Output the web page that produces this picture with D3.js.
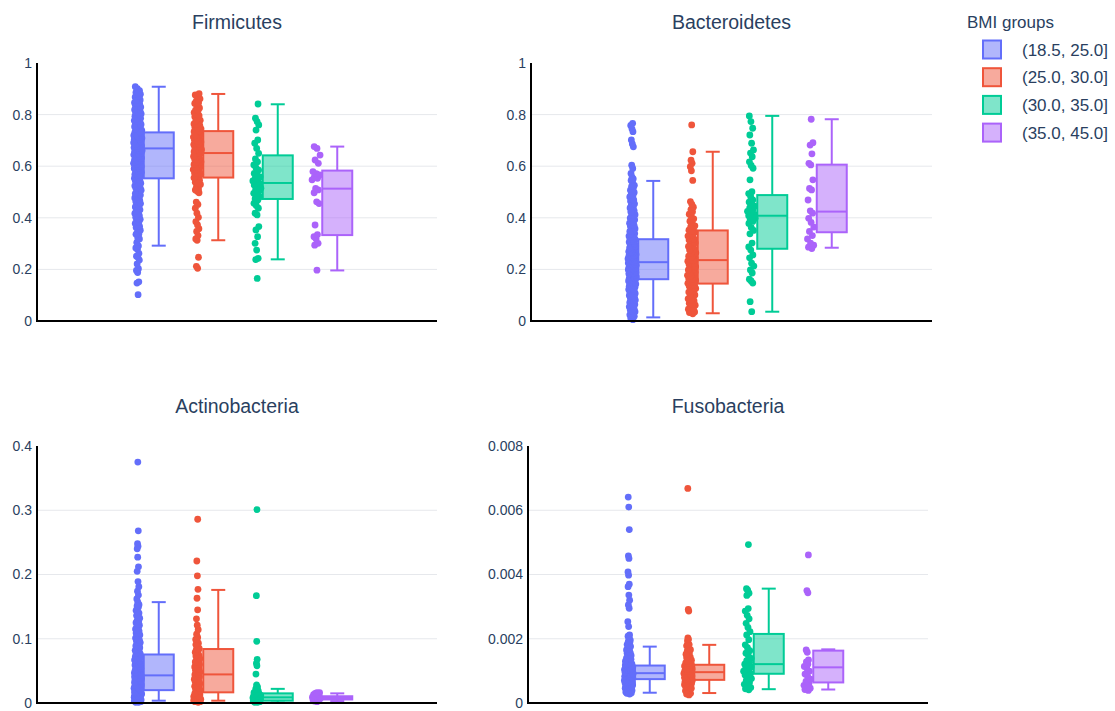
<!DOCTYPE html>
<html>
<head>
<meta charset="utf-8">
<script src="https://cdn.jsdelivr.net/npm/d3@7"></script>
<style>
  body { margin: 0; background: #fff; }
  svg { font-family: "Liberation Sans", Arial, sans-serif; background: #fff; }
  .tick text { fill: #2a3f5f; font-size: 14px; }
  .panel-title { fill: #2a3f5f; font-size: 19.5px; }
  .legend text { fill: #2a3f5f; font-size: 17px; }
</style>
</head>
<body>
<svg id="chart"></svg>
<script>
// ---- data ----
const bmiGroups = ['(18.5, 25.0]', '(25.0, 30.0]', '(30.0, 35.0]', '(35.0, 45.0]'];
const groupColors = ['#636efa', '#EF553B', '#00cc96', '#ab63fa'];
const phyla = ['Firmicutes', 'Bacteroidetes', 'Actinobacteria', 'Fusobacteria'];

const ticksUnit = [0, 0.2, 0.4, 0.6, 0.8, 1];
const ticksActino = [0, 0.1, 0.2, 0.3, 0.4];
const ticksFuso = [0, 0.002, 0.004, 0.006, 0.008];

// box stats per group: [lower fence, q1, median, q3, upper fence]
const firmBox = [[0.292, 0.553, 0.669, 0.731, 0.908], [0.313, 0.556, 0.651, 0.736, 0.880],
                 [0.239, 0.473, 0.535, 0.642, 0.840], [0.196, 0.333, 0.513, 0.583, 0.676]];
const bactBox = [[0.014, 0.162, 0.228, 0.317, 0.543], [0.030, 0.145, 0.236, 0.351, 0.656],
                 [0.036, 0.280, 0.408, 0.488, 0.795], [0.284, 0.344, 0.424, 0.606, 0.782]];
const actinoBox = [[0.0036, 0.020, 0.043, 0.0755, 0.157], [0.0036, 0.0166, 0.0445, 0.084, 0.176],
                   [0.0008, 0.0036, 0.0088, 0.015, 0.022], [0.003, 0.0055, 0.0078, 0.0105, 0.015]];
const fusoBox = [[0.00032, 0.000743, 0.000929, 0.001166, 0.001755], [0.00031, 0.00072, 0.00096, 0.00119, 0.00181],
                 [0.00043, 0.00091, 0.00121, 0.00215, 0.00356], [0.00042, 0.00064, 0.00111, 0.00163, 0.00167]];

// sample points
const firm1 = [0.102,0.147,0.152,0.188,0.196,0.203,0.221,0.236,0.247,0.251,0.262,0.278,0.283,0.291,0.304,0.318,0.322,0.337,0.341,0.356,0.362,0.371,0.378,0.389,0.394,0.402,0.408,0.417,0.423,0.431,0.436,0.442,0.451,0.458,0.463,0.472,0.477,0.484,0.491,0.497,0.503,0.512,0.518,0.524,0.531,0.537,0.542,0.548,0.553,0.559,0.562,0.568,0.574,0.577,0.583,0.588,0.591,0.597,0.602,0.606,0.611,0.614,0.619,0.623,0.627,0.632,0.636,0.641,0.644,0.648,0.652,0.655,0.659,0.663,0.666,0.669,0.672,0.675,0.679,0.682,0.686,0.689,0.693,0.696,0.699,0.703,0.706,0.709,0.712,0.716,0.719,0.722,0.725,0.728,0.731,0.735,0.739,0.742,0.747,0.751,0.756,0.759,0.764,0.768,0.772,0.777,0.781,0.786,0.791,0.794,0.799,0.803,0.808,0.813,0.817,0.822,0.826,0.831,0.836,0.841,0.846,0.852,0.857,0.863,0.868,0.874,0.879,0.886,0.893,0.901,0.908,
  0.336,0.352,0.367,0.383,0.396,0.412,0.427,0.446,0.455,0.468,0.481,0.488,0.494,0.507,0.515,0.521,0.528,0.534,0.545,0.556,0.565,0.571,0.579,0.586,0.594,0.599,0.604,0.608,0.616,0.621,0.629,0.634,0.638,0.646,0.651,0.657,0.661,0.671,0.677,0.684,0.691,0.698,0.705,0.711,0.718,0.727,0.733,0.744,0.753,0.762,0.774,0.783,0.797,0.806,0.819,0.829,0.844,0.855,0.871,0.884];
const firm2 = [0.204,0.212,0.247,0.313,0.318,0.331,0.347,0.358,0.372,0.385,0.402,0.418,0.437,0.452,0.461,0.497,0.503,0.512,0.521,0.529,0.538,0.546,0.552,0.557,0.563,0.569,0.574,0.581,0.587,0.592,0.598,0.604,0.611,0.617,0.622,0.628,0.634,0.641,0.646,0.651,0.656,0.661,0.667,0.672,0.678,0.684,0.689,0.694,0.701,0.707,0.713,0.718,0.724,0.729,0.734,0.739,0.745,0.751,0.758,0.764,0.771,0.778,0.784,0.792,0.801,0.808,0.817,0.826,0.834,0.843,0.852,0.861,0.869,0.876,0.881,
  0.508,0.534,0.555,0.572,0.586,0.596,0.607,0.615,0.626,0.638,0.649,0.659,0.664,0.675,0.687,0.698,0.710,0.721,0.737,0.748,0.762,0.775,0.796,0.815,0.846];
const firm3 = [0.165,0.238,0.243,0.275,0.301,0.327,0.353,0.366,0.411,0.418,0.437,0.448,0.456,0.469,0.474,0.481,0.488,0.495,0.502,0.508,0.515,0.521,0.527,0.532,0.538,0.543,0.549,0.553,0.559,0.566,0.572,0.585,0.593,0.605,0.617,0.628,0.650,0.669,0.689,0.702,0.740,0.760,0.773,0.786,0.841];
const firm4 = [0.197,0.294,0.301,0.318,0.327,0.335,0.372,0.455,0.462,0.497,0.508,0.514,0.547,0.553,0.557,0.566,0.571,0.579,0.611,0.624,0.643,0.669,0.676];

const bact1 = [0.005,0.012,0.018,0.024,0.031,0.036,0.043,0.049,0.055,0.061,0.067,0.072,0.078,0.083,0.089,0.094,0.099,0.104,0.109,0.113,0.118,0.122,0.127,0.131,0.135,0.139,0.143,0.147,0.151,0.155,0.158,0.162,0.165,0.169,0.172,0.176,0.179,0.183,0.186,0.189,0.193,0.196,0.199,0.203,0.206,0.209,0.212,0.216,0.219,0.222,0.225,0.228,0.231,0.234,0.238,0.241,0.244,0.248,0.251,0.255,0.258,0.262,0.266,0.269,0.273,0.277,0.281,0.285,0.289,0.293,0.297,0.302,0.306,0.311,0.315,0.319,0.324,0.329,0.334,0.339,0.344,0.349,0.355,0.361,0.367,0.373,0.379,0.386,0.392,0.399,0.405,0.412,0.419,0.427,0.434,0.442,0.449,0.457,0.465,0.472,0.481,0.489,0.498,0.507,0.516,0.526,0.537,0.545,0.558,0.572,0.591,0.604,0.675,0.686,0.702,0.734,0.745,0.758,0.766,
  0.021,0.028,0.039,0.047,0.058,0.064,0.075,0.081,0.092,0.101,0.107,0.116,0.124,0.133,0.137,0.145,0.149,0.156,0.161,0.167,0.171,0.178,0.184,0.188,0.195,0.201,0.205,0.211,0.217,0.221,0.227,0.233,0.237,0.243,0.249,0.254,0.261,0.267,0.275,0.283,0.291,0.299,0.308,0.317,0.326,0.337,0.347,0.358,0.371,0.383,0.396,0.409,0.423,0.438,0.454,0.469,0.486,0.503,0.522,0.551];
const bact2 = [0.028,0.033,0.038,0.046,0.052,0.061,0.069,0.078,0.086,0.094,0.101,0.109,0.116,0.122,0.129,0.135,0.141,0.146,0.152,0.158,0.164,0.171,0.177,0.183,0.189,0.195,0.201,0.207,0.213,0.219,0.226,0.232,0.238,0.244,0.251,0.258,0.264,0.271,0.278,0.285,0.292,0.299,0.306,0.314,0.321,0.329,0.336,0.344,0.352,0.361,0.369,0.378,0.387,0.396,0.405,0.414,0.423,0.432,0.441,0.452,0.463,0.545,0.582,0.598,0.611,0.623,0.656,0.760,
  0.035,0.049,0.064,0.082,0.097,0.112,0.126,0.138,0.149,0.161,0.174,0.186,0.198,0.210,0.222,0.235,0.248,0.261,0.275,0.289,0.303,0.318,0.333,0.348,0.366];
const bact3 = [0.036,0.075,0.147,0.155,0.162,0.186,0.198,0.213,0.224,0.245,0.256,0.275,0.287,0.302,0.338,0.351,0.362,0.378,0.386,0.392,0.398,0.403,0.408,0.413,0.419,0.425,0.431,0.438,0.445,0.452,0.461,0.469,0.482,0.494,0.501,0.547,0.592,0.603,0.617,0.637,0.651,0.663,0.689,0.721,0.747,0.773,0.795];
const bact4 = [0.281,0.286,0.294,0.302,0.318,0.331,0.347,0.364,0.382,0.398,0.418,0.427,0.469,0.508,0.514,0.547,0.605,0.611,0.648,0.682,0.691,0.782];

const actino1 = [0.001,0.002,0.003,0.004,0.005,0.006,0.008,0.009,0.010,0.011,0.012,0.013,0.014,0.015,0.016,0.017,0.018,0.019,0.020,0.021,0.022,0.023,0.024,0.025,0.026,0.027,0.028,0.029,0.031,0.032,0.033,0.034,0.035,0.036,0.037,0.038,0.039,0.040,0.041,0.042,0.043,0.044,0.045,0.046,0.047,0.048,0.049,0.050,0.052,0.053,0.055,0.056,0.058,0.059,0.061,0.063,0.064,0.066,0.068,0.069,0.071,0.073,0.075,0.077,0.079,0.081,0.083,0.085,0.088,0.090,0.092,0.095,0.097,0.100,0.103,0.106,0.109,0.112,0.115,0.118,0.121,0.125,0.128,0.132,0.136,0.140,0.144,0.149,0.153,0.157,0.162,0.168,0.174,0.181,0.189,0.205,0.212,0.227,0.240,0.244,0.248,0.268,0.375,
  0.001,0.002,0.004,0.005,0.007,0.009,0.011,0.013,0.015,0.017,0.019,0.021,0.023,0.025,0.027,0.030,0.032,0.034,0.036,0.038,0.041,0.043,0.046,0.048,0.051,0.054,0.057,0.060,0.062,0.065,0.067,0.070,0.072,0.076,0.078,0.082,0.086,0.089,0.094,0.098,0.101,0.105,0.108,0.113,0.117,0.122,0.127,0.134,0.142,0.151];
const actino2 = [0.001,0.002,0.003,0.004,0.005,0.006,0.007,0.009,0.010,0.012,0.013,0.014,0.016,0.018,0.020,0.022,0.024,0.026,0.028,0.031,0.033,0.035,0.038,0.040,0.042,0.044,0.046,0.049,0.051,0.054,0.057,0.059,0.062,0.065,0.068,0.071,0.074,0.078,0.081,0.085,0.089,0.093,0.097,0.102,0.107,0.114,0.121,0.131,0.145,0.163,0.177,0.198,0.221,0.286,
  0.002,0.004,0.006,0.008,0.011,0.015,0.019,0.023,0.027,0.030,0.034,0.037,0.041,0.045,0.048,0.053,0.056,0.060,0.064,0.069,0.073,0.079,0.084,0.091,0.099];
const actino3 = [0.001,0.001,0.002,0.002,0.003,0.004,0.004,0.005,0.006,0.006,0.007,0.008,0.008,0.009,0.009,0.010,0.010,0.011,0.011,0.012,0.012,0.013,0.014,0.014,0.015,0.016,0.017,0.018,0.019,0.021,0.022,0.025,0.028,0.045,0.058,0.062,0.068,0.096,0.167,0.301];
const actino4 = [0.002,0.003,0.004,0.005,0.005,0.006,0.006,0.007,0.007,0.008,0.008,0.009,0.009,0.010,0.011,0.011,0.012,0.013,0.014,0.015,0.016,0.016];

const fuso1 = [0.00028,0.00031,0.00034,0.00037,0.0004,0.00043,0.00046,0.00049,0.00051,0.00054,0.00056,0.00059,0.00061,0.00063,0.00065,0.00067,0.00069,0.00071,0.00073,0.00075,0.00077,0.00078,0.0008,0.00082,0.00083,0.00085,0.00087,0.00088,0.0009,0.00092,0.00093,0.00095,0.00097,0.00098,0.001,0.00102,0.00104,0.00106,0.00108,0.0011,0.00112,0.00114,0.00117,0.00119,0.00122,0.00125,0.00128,0.00131,0.00134,0.00138,0.00142,0.00146,0.0015,0.00155,0.0016,0.00165,0.0017,0.00176,0.00182,0.00189,0.00196,0.00204,0.00212,0.00238,0.00253,0.00295,0.00305,0.0032,0.00336,0.00362,0.0037,0.00398,0.00408,0.0045,0.00458,0.0054,0.0061,0.00641,
  0.0003,0.00033,0.00036,0.00039,0.00042,0.00045,0.00048,0.0005,0.00053,0.00055,0.00058,0.0006,0.00062,0.00064,0.00066,0.00068,0.0007,0.00072,0.00074,0.00076,0.00079,0.00081,0.00084,0.00086,0.00089,0.00091,0.00094,0.00096,0.00099,0.00101,0.00103,0.00105,0.00107,0.00109,0.00111,0.00113,0.00116,0.00118,0.00121,0.00124,0.00127,0.0013,0.00136,0.0014,0.00148,0.00157,0.00168,0.00179,0.00192,0.00208];
const fuso2 = [0.00025,0.0003,0.00035,0.0004,0.00044,0.00048,0.00052,0.00055,0.00058,0.00061,0.00064,0.00067,0.0007,0.00072,0.00075,0.00077,0.0008,0.00082,0.00085,0.00087,0.0009,0.00092,0.00095,0.00097,0.001,0.00103,0.00106,0.00109,0.00112,0.00115,0.00118,0.00121,0.00125,0.00129,0.00133,0.00138,0.00143,0.00149,0.00155,0.00162,0.0017,0.00178,0.00186,0.00194,0.00203,0.00286,0.00291,0.00668,
  0.00028,0.00038,0.00046,0.0005,0.00057,0.0006,0.00066,0.00069,0.00074,0.00079,0.00084,0.00089,0.00094,0.00099,0.00104,0.00108,0.00113,0.00117,0.00123,0.00131,0.00141,0.00152,0.00166,0.00182,0.00198];
const fuso3 = [0.00041,0.00044,0.00048,0.00053,0.00058,0.00064,0.0007,0.00076,0.00082,0.00087,0.00091,0.00095,0.00099,0.00103,0.00108,0.00112,0.00117,0.00121,0.00126,0.00132,0.00139,0.00147,0.00155,0.00163,0.00172,0.00181,0.00197,0.00212,0.00222,0.00235,0.00248,0.00262,0.00273,0.00286,0.00294,0.00335,0.00342,0.00351,0.00356,0.00493];
const fuso4 = [0.00039,0.00042,0.00046,0.0005,0.00055,0.00061,0.00067,0.00074,0.00082,0.0009,0.00099,0.00108,0.00114,0.00121,0.00128,0.00134,0.00158,0.00165,0.00343,0.0035,0.00461];

// ---- layout ----
const width = 1115, height = 711;
const svg = d3.select('#chart').attr('width', width).attr('height', height);

const panels = [
  {title: phyla[0], pts: [firm1, firm2, firm3, firm4], box: firmBox, ticks: ticksUnit, x0: 37, x1: 437, y0: 63, y1: 321, ty: 29},
  {title: phyla[1], pts: [bact1, bact2, bact3, bact4], box: bactBox, ticks: ticksUnit, x0: 531, x1: 932, y0: 63, y1: 321, ty: 29},
  {title: phyla[2], pts: [actino1, actino2, actino3, actino4], box: actinoBox, ticks: ticksActino, x0: 37, x1: 437, y0: 446, y1: 703, ty: 413},
  {title: phyla[3], pts: [fuso1, fuso2, fuso3, fuso4], box: fusoBox, ticks: ticksFuso, x0: 528, x1: 928, y0: 446, y1: 703, ty: 413}
];

// deterministic jitter, wider where points are denser (like plotly's box points)
function jitter(vals, span, half) {
  const n = vals.length;
  const order = d3.range(n).sort((a, b) => vals[a] - vals[b]);
  const dens = order.map((k, i) => {
    const i0 = Math.max(0, i - 5), i1 = Math.min(n - 1, i + 5);
    const d = vals[order[i1]] - vals[order[i0]];
    return Math.sqrt((i1 - i0) / Math.max(d, 0.01 * span));
  });
  const maxD = d3.max(dens);
  const off = new Array(n);
  order.forEach((k, i) => {
    const u = ((i + 1) * 0.6180339887) % 1;
    off[k] = (dens[i] / maxD) * half * (2 * u - 1);
  });
  return off;
}

panels.forEach(p => {
  const g = svg.append('g');
  const yMax = d3.max(p.ticks);
  const y = d3.scaleLinear().domain([0, yMax]).range([p.y1, p.y0]);
  const cx = (p.x0 + p.x1) / 2;
  const xBand = d3.scaleBand().domain(bmiGroups).range([cx - 119, cx + 119]);
  const bw = xBand.bandwidth();

  // gridlines
  g.selectAll('.grid')
    .data(p.ticks.filter(t => t > 0 && t < yMax))
    .join('line')
      .attr('x1', p.x0).attr('x2', p.x1)
      .attr('y1', d => y(d)).attr('y2', d => y(d))
      .attr('stroke', '#e6e8ec').attr('stroke-width', 1);

  // y axis labels
  const yAxis = d3.axisLeft(y).tickValues(p.ticks).tickSize(0).tickPadding(5)
    .tickFormat(d3.format('~g'));
  g.append('g')
      .attr('transform', `translate(${p.x0},0)`)
      .call(yAxis)
      .call(a => a.select('.domain').remove())
      .selectAll('text').attr('font-family', null).attr('font-size', null);

  // boxes
  bmiGroups.forEach((grp, i) => {
    const col = groupColors[i];
    const [lo, q1, med, q3, hi] = p.box[i];
    const bc = xBand(grp) + bw / 2 + 11;
    const pc = xBand(grp) + bw / 2 - 10;
    const hw = 15, cap = 7;

    const bg = g.append('g').attr('stroke', col).attr('stroke-width', 2);
    bg.append('rect')
      .attr('x', bc - hw).attr('y', y(q3))
      .attr('width', hw * 2).attr('height', y(q1) - y(q3))
      .attr('fill', col).attr('fill-opacity', 0.5);
    bg.append('line').attr('x1', bc - hw).attr('x2', bc + hw).attr('y1', y(med)).attr('y2', y(med));
    bg.append('line').attr('x1', bc).attr('x2', bc).attr('y1', y(q3)).attr('y2', y(hi));
    bg.append('line').attr('x1', bc).attr('x2', bc).attr('y1', y(q1)).attr('y2', y(lo));
    bg.append('line').attr('x1', bc - cap).attr('x2', bc + cap).attr('y1', y(hi)).attr('y2', y(hi));
    bg.append('line').attr('x1', bc - cap).attr('x2', bc + cap).attr('y1', y(lo)).attr('y2', y(lo));

    const vals = p.pts[i];
    const off = jitter(vals, yMax, 4.5);
    g.append('g').selectAll('circle')
      .data(vals)
      .join('circle')
        .attr('cx', (d, k) => pc + off[k])
        .attr('cy', d => y(d))
        .attr('r', 3.4)
        .attr('fill', col);
  });

  // axis lines
  g.append('line').attr('x1', p.x0).attr('x2', p.x0).attr('y1', p.y0).attr('y2', p.y1 + 1)
    .attr('stroke', '#000').attr('stroke-width', 2);
  g.append('line').attr('x1', p.x0 - 1).attr('x2', p.x1).attr('y1', p.y1).attr('y2', p.y1)
    .attr('stroke', '#000').attr('stroke-width', 2);

  g.append('text')
    .attr('class', 'panel-title')
    .attr('x', cx).attr('y', p.ty)
    .attr('text-anchor', 'middle')
    .text(p.title);
});

// legend
const legend = svg.append('g').attr('class', 'legend');
legend.append('text').attr('x', 967).attr('y', 28).text('BMI groups');
bmiGroups.forEach((grp, i) => {
  const cy = 49.5 + i * 27.7;
  legend.append('rect')
    .attr('x', 983).attr('y', cy - 9).attr('width', 18).attr('height', 18)
    .attr('fill', groupColors[i]).attr('fill-opacity', 0.5)
    .attr('stroke', groupColors[i]).attr('stroke-width', 2);
  legend.append('text').attr('x', 1022).attr('y', cy + 6).text(grp);
});
</script>
</body>
</html>
